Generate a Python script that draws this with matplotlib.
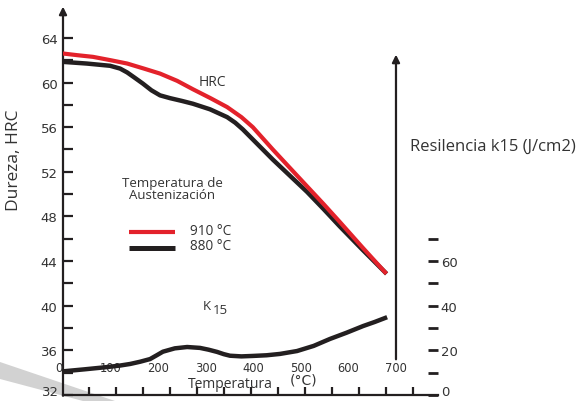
import numpy as np
import matplotlib
matplotlib.use("Agg")
import matplotlib.pyplot as plt
from matplotlib.patches import Polygon

# datos
temp_910 = [0, 30, 63, 100, 135, 170, 204, 240, 273, 310, 345, 375, 399, 420, 441,
            477, 513, 548, 582, 630, 677]
hrc_910 = [62.6, 62.45, 62.3, 62.0, 61.7, 61.25, 60.8, 60.15, 59.4, 58.6, 57.8, 56.9,
           56.0, 55.0, 54.0, 52.35, 50.7, 49.1, 47.5, 45.2, 43.0]

temp_880 = [0, 50, 99, 120, 135, 150, 168, 186, 204, 225, 250, 273, 291, 309, 327, 345,
            362, 378, 399, 420, 441, 477, 513, 548, 582, 630, 677]
hrc_880 = [61.85, 61.7, 61.5, 61.25, 60.9, 60.45, 59.9, 59.3, 58.85, 58.6, 58.35, 58.1,
           57.85, 57.6, 57.25, 56.9, 56.4, 55.8, 54.9, 54.0, 53.1, 51.65, 50.2, 48.65,
           47.1, 45.0, 43.0]

temp_k15 = [0, 45, 92, 120, 141, 162, 183, 197, 210, 235, 261, 288, 306, 324, 338, 351,
            375, 399, 428, 456, 492, 527, 561, 596, 631, 655, 677]
k15 = [10.6, 11.5, 12.5, 13.2, 13.9, 14.9, 16.1, 17.8, 19.4, 20.9, 21.5, 21.1, 20.3,
       19.3, 18.3, 17.6, 17.3, 17.5, 17.8, 18.4, 19.7, 22.0, 25.1, 27.9, 30.9, 32.7, 34.5]

temp_labels = [0, 100, 200, 300, 400, 500, 600, 700]
hrc_ticks = [32, 36, 40, 44, 48, 52, 56, 60, 64]
k15_ticks = [0, 10, 20, 30, 40, 50, 60, 70]

RED = "#e3222b"
BLK = "#231f20"
TXT = "#333333"
TF = "Open Sans"

fig = plt.figure(figsize=(5.84, 4.02), dpi=100)
W, H = 584, 402
pxT = 0.4757          # px por grado
pxH = 11.16           # px por HRC
ax = fig.add_axes([63 / W, 6 / H, 375 / W, 35 * pxH / H])
ax.set_xlim(0, 375 / pxT)
ax.set_ylim(32, 67)
ax.patch.set_alpha(0)

for s in ["top", "right", "left"]:
    ax.spines[s].set_visible(False)
ax.spines["bottom"].set_linewidth(1.6)
ax.spines["bottom"].set_color(BLK)

# eje izquierdo con flecha
ax.annotate("", xy=(0, 66.8), xytext=(0, 31.93),
            arrowprops=dict(arrowstyle="-|>", lw=1.6, color=BLK, mutation_scale=11,
                            shrinkA=0, shrinkB=0), annotation_clip=False)

ax.set_yticks(hrc_ticks)
ax.set_yticklabels([str(v) if v > 32 else "" for v in hrc_ticks])
ax.set_yticks(np.arange(34, 63, 4), minor=True)
ax.tick_params(axis="y", which="both", direction="in", length=7.5, width=1.6,
               color=BLK, labelsize=9.5, labelcolor=TXT, pad=4)
ax.text(-8.5, 32.3, "32", ha="right", va="center", fontsize=9.5, color=TXT)
ax.set_xticks(np.linspace(54.7, 735.8, 13))
ax.set_xticklabels([])
ax.tick_params(axis="x", direction="in", length=6, width=1.6, color=BLK)

# eje derecho k15
ax2 = ax.twinx()
ax2.set_ylim(0, 175)
ax2.patch.set_alpha(0)
for s in ax2.spines.values():
    s.set_visible(False)
ax2.set_yticks(k15_ticks)
ax2.set_yticklabels([str(v) if v % 20 == 0 and v > 0 else "" for v in k15_ticks])
ax2.tick_params(axis="y", direction="in", length=7.5, width=2, color=BLK,
                labelsize=9.5, labelcolor=TXT, pad=2)
ax2.text(794, 1.4, "0", ha="left", va="center", fontsize=9.5, color=TXT)

# linea vertical con flecha en 700
ax.annotate("", xy=(700, 62.5), xytext=(700, 35.2),
            arrowprops=dict(arrowstyle="-|>", lw=1.6, color=BLK, mutation_scale=11,
                            shrinkA=0, shrinkB=0), annotation_clip=False)

# curvas
ax.plot(temp_880, hrc_880, color=BLK, lw=3.2, solid_joinstyle="round", zorder=3)
ax.plot(temp_910, hrc_910, color=RED, lw=3.0, solid_joinstyle="round", zorder=4)
ax2.plot(temp_k15, k15, color=BLK, lw=3.2, solid_joinstyle="round", zorder=3)

# etiquetas del eje x
for t in temp_labels:
    ax.text(t, 34.5, str(t), ha="right" if t == 0 else "center", va="center",
            fontsize=8.3, color=TXT)
ax.text(351, 33.0, "Temperatura", ha="center", va="center", fontsize=10,
        color=TXT, family=TF)
ax.text(505, 33.35, "(°C)", ha="center", va="center", fontsize=10, color=TXT)

# textos
ax.text(313, 60.1, "HRC", ha="center", va="center", fontsize=10, color=TXT, family=TF)
ax.text(293, 40.05, "K", ha="left", va="center", fontsize=9.5, color=TXT, family=TF)
ax.text(315, 39.65, "15", ha="left", va="center", fontsize=9.5, color=TXT, family=TF)
ax.text(230, 51.05, "Temperatura de", ha="center", va="center", fontsize=9.5,
        color=TXT, family=TF)
ax.text(230, 50.0, "Austenización", ha="center", va="center", fontsize=9.5,
        color=TXT, family=TF)

# leyenda
ax.plot([139, 235], [46.6, 46.6], color=RED, lw=3.0, solid_capstyle="butt")
ax.plot([139, 235], [45.2, 45.2], color=BLK, lw=3.6, solid_capstyle="butt")
ax.text(267, 46.75, "910 °C", ha="left", va="center", fontsize=9.8, color=TXT, family=TF)
ax.text(267, 45.4, "880 °C", ha="left", va="center", fontsize=9.8, color=TXT, family=TF)

fig.text(14 / W, 1 - 160 / H, "Dureza, HRC", rotation=90, ha="center", va="center",
         fontsize=12.5, color=TXT, family=TF)
fig.text(410 / W, 1 - 147 / H, "Resilencia k15 (J/cm2)", ha="left", va="center",
         fontsize=12, color=TXT, family=TF)

# sombra gris abajo a la izquierda
pts = [(0, 363), (115, 402), (83, 402), (0, 380)]
fig.patches.append(Polygon([(x / W, 1 - y / H) for x, y in pts], closed=True,
                           transform=fig.transFigure, facecolor="#d2d2d2",
                           edgecolor="none", zorder=-1))

fig.savefig("out.png", dpi=100)
